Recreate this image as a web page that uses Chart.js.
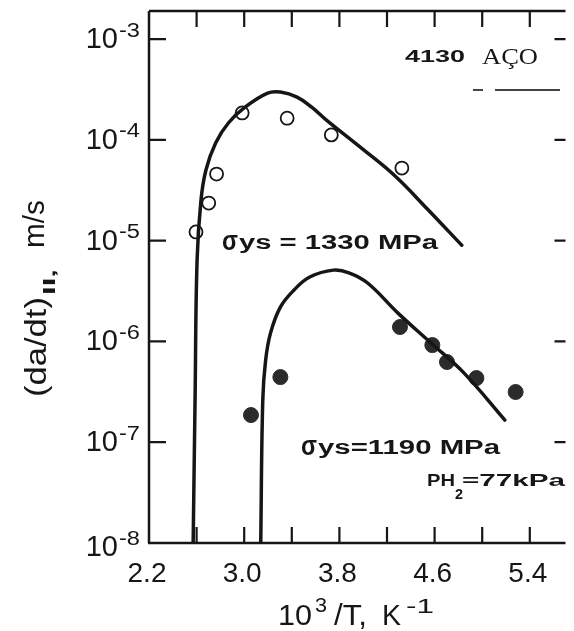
<!DOCTYPE html>
<html>
<head>
<meta charset="utf-8">
<script src="https://cdn.jsdelivr.net/npm/chart.js@4.4.1/dist/chart.umd.min.js"></script>
<style>
html,body{margin:0;padding:0;background:#fff;}
#wrap{width:574px;height:631px;}
</style>
</head>
<body>
<div id="wrap"><canvas id="c" width="574" height="631"></canvas></div>
<script>
// ---- tick values / labels ----
const xTickValues = [2.2, 2.6, 3.0, 3.4, 3.8, 4.2, 4.6, 5.0, 5.4];
const xTickLabels = ['2.2', '', '3.0', '', '3.8', '', '4.6', '', '5.4'];
const yTickValues = [1e-8, 1e-7, 1e-6, 1e-5, 1e-4, 1e-3];
const yTickBase = '10';
const yTickExponents = ['-8', '-7', '-6', '-5', '-4', '-3'];

// ---- sigma_ys = 1330 MPa : fitted curve and measured points (open circles) ----
const curve1330X = [2.571, 2.587, 2.604, 2.637, 2.678, 2.760, 2.867, 3.007, 3.197, 3.304, 3.444, 3.567, 3.691, 3.996, 4.268, 4.539, 4.828];
const curve1330Y = [1e-8, 2.6e-7, 6.4e-6, 2.53e-5, 5.0e-5, 9.3e-5, 1.47e-4, 2.11e-4, 2.91e-4, 2.98e-4, 2.66e-4, 2.11e-4, 1.57e-4, 8.1e-5, 4.38e-5, 2.06e-5, 9.0e-6];
const points1330X = [2.595, 2.702, 2.768, 2.983, 3.361, 3.732, 4.325];
const points1330Y = [1.22e-5, 2.36e-5, 4.58e-5, 1.85e-4, 1.64e-4, 1.12e-4, 5.25e-5];

// ---- sigma_ys = 1190 MPa : fitted curve and measured points (filled circles) ----
const curve1190X = [3.139, 3.156, 3.180, 3.221, 3.304, 3.419, 3.551, 3.749, 3.880, 4.037, 4.292, 4.572, 4.844, 5.190];
const curve1190Y = [1e-8, 2.6e-7, 6.5e-7, 1.21e-6, 2.19e-6, 3.24e-6, 4.36e-6, 5.1e-6, 4.8e-6, 3.8e-6, 1.91e-6, 9.6e-7, 4.9e-7, 1.66e-7];
const points1190X = [3.057, 3.304, 4.309, 4.581, 4.704, 4.951, 5.281];
const points1190Y = [1.86e-7, 4.43e-7, 1.39e-6, 9.2e-7, 6.25e-7, 4.33e-7, 3.15e-7];

const INK = '#161616';
const SANS = '"Liberation Sans", Arial, Helvetica, sans-serif';
const SERIF = '"Liberation Serif", "Times New Roman", serif';

function pts(xs, ys) { return xs.map((v, i) => ({x: v, y: ys[i]})); }

// draw text stretched horizontally so it spans `width` pixels (left aligned at x)
function fitText(ctx, str, x, y, font, width, baseline) {
  ctx.save();
  ctx.font = font;
  ctx.textAlign = 'left';
  ctx.textBaseline = baseline || 'alphabetic';
  const w = ctx.measureText(str).width;
  const sx = width ? width / w : 1;
  ctx.translate(x, y);
  ctx.scale(sx, 1);
  ctx.fillText(str, 0, 0);
  ctx.restore();
}

const framePlugin = {
  id: 'frame',
  afterDraw(chart) {
    const {ctx, chartArea: {left, right, top, bottom}, scales: {x, y}} = chart;
    ctx.save();
    ctx.strokeStyle = INK;
    ctx.fillStyle = INK;
    ctx.lineCap = 'butt';
    // frame lines
    ctx.lineWidth = 2.5;
    ctx.beginPath();
    ctx.moveTo(left, top); ctx.lineTo(right, top);
    ctx.moveTo(left, top); ctx.lineTo(left, bottom);
    ctx.moveTo(left - 1, bottom); ctx.lineTo(right, bottom);
    ctx.stroke();
    // inward tick marks
    ctx.lineWidth = 2.2;
    ctx.beginPath();
    xTickValues.forEach(v => {
      if (v <= x.min) return;
      const px = x.getPixelForValue(v);
      ctx.moveTo(px, top); ctx.lineTo(px, top + 16);
      ctx.moveTo(px, bottom); ctx.lineTo(px, bottom - 16);
    });
    yTickValues.forEach(v => {
      if (v <= y.min) return;
      const py = y.getPixelForValue(v);
      ctx.moveTo(left, py); ctx.lineTo(left + 17, py);
      ctx.moveTo(right, py); ctx.lineTo(right - 11, py);
    });
    ctx.stroke();

    // x tick labels
    ctx.font = '28px ' + SANS;
    ctx.textAlign = 'center';
    ctx.textBaseline = 'middle';
    xTickValues.forEach((v, i) => {
      if (!xTickLabels[i]) return;
      ctx.fillText(xTickLabels[i], x.getPixelForValue(v) - 2, 574);
    });
    // y tick labels: 10 with superscript exponent
    yTickValues.forEach((v, i) => {
      const py = y.getPixelForValue(v) + (i === 0 ? 4 : 0);
      ctx.textAlign = 'right';
      ctx.textBaseline = 'middle';
      ctx.font = '29px ' + SANS;
      ctx.fillText(yTickBase, 118, py + 1);
      fitText(ctx, yTickExponents[i], 119, py - 8, '20px ' + SANS, 21, 'middle');
    });

    // x axis title: 10^3 /T, K^-1
    fitText(ctx, '10', 278, 625, '29px ' + SANS, 34);
    fitText(ctx, '3', 315, 612, '20px ' + SANS, 12);
    fitText(ctx, '/T,', 334, 625, '29px ' + SANS, 33);
    fitText(ctx, 'K', 382, 625, '29px ' + SANS, 19);
    fitText(ctx, '-1', 406, 613, '20px ' + SANS, 28);

    // y axis title (rotated)
    ctx.save();
    ctx.translate(46, 397);
    ctx.rotate(-Math.PI / 2);
    fitText(ctx, '(da/dt)', 0, 0, '29px ' + SANS, 100);
    fitText(ctx, 'II,', 102, 9, 'bold 17px ' + SANS, 26);
    fitText(ctx, 'm/s', 149, -2, '29px ' + SANS, 48);
    ctx.restore();

    // annotations
    fitText(ctx, '4130', 405, 62, 'bold 17px ' + SANS, 60);
    fitText(ctx, 'AÇO', 482, 64, '23px ' + SERIF, 56);
    ctx.lineWidth = 2;
    ctx.strokeStyle = '#444';
    ctx.beginPath();
    ctx.moveTo(473, 90); ctx.lineTo(483, 90);
    ctx.moveTo(495, 90); ctx.lineTo(560, 90);
    ctx.stroke();

    fitText(ctx, 'σ', 222, 250, 'bold 27px ' + SANS, 16);
    fitText(ctx, 'ys = 1330 MPa', 239, 249, 'bold 20px ' + SANS, 199);
    fitText(ctx, 'σ', 301, 455, 'bold 27px ' + SANS, 16);
    fitText(ctx, 'ys=1190 MPa', 318, 454, 'bold 20px ' + SANS, 182);
    fitText(ctx, 'PH', 427, 486, 'bold 17px ' + SANS, 28);
    fitText(ctx, '2', 455, 499, 'bold 14px ' + SANS, 8);
    fitText(ctx, '=77kPa', 462, 486, 'bold 17px ' + SANS, 103);
    ctx.restore();
  }
};

new Chart(document.getElementById('c'), {
  type: 'scatter',
  data: {
    datasets: [
      { label: 'σys = 1330 MPa (curve)', data: pts(curve1330X, curve1330Y), showLine: true,
        borderColor: INK, borderWidth: 3.5, pointRadius: 0, tension: 0.4, borderCapStyle: 'round' },
      { label: 'σys = 1190 MPa (curve)', data: pts(curve1190X, curve1190Y), showLine: true,
        borderColor: INK, borderWidth: 3.5, pointRadius: 0, tension: 0.4, borderCapStyle: 'round' },
      { label: 'σys = 1330 MPa', data: pts(points1330X, points1330Y), showLine: false,
        pointRadius: 6.5, pointBorderWidth: 1.8, pointBackgroundColor: '#fff', pointBorderColor: INK },
      { label: 'σys = 1190 MPa', data: pts(points1190X, points1190Y), showLine: false,
        pointRadius: 7.5, pointBorderWidth: 1, pointBackgroundColor: '#2b2b2b', pointBorderColor: '#2b2b2b' }
    ]
  },
  options: {
    responsive: false,
    animation: false,
    devicePixelRatio: 1,
    layout: { padding: { top: 11, right: 0, bottom: 0, left: 0 } },
    plugins: { legend: { display: false }, tooltip: { enabled: false } },
    scales: {
      x: { type: 'linear', min: 2.2, max: 5.7, grid: { display: false }, border: { display: false },
           ticks: { display: false }, afterFit(s) { s.height = 88; } },
      y: { type: 'logarithmic', min: 1e-8, max: 1.9e-3, grid: { display: false }, border: { display: false },
           ticks: { display: false }, afterFit(s) { s.width = 149; } }
    }
  },
  plugins: [framePlugin]
});
</script>
</body>
</html>
